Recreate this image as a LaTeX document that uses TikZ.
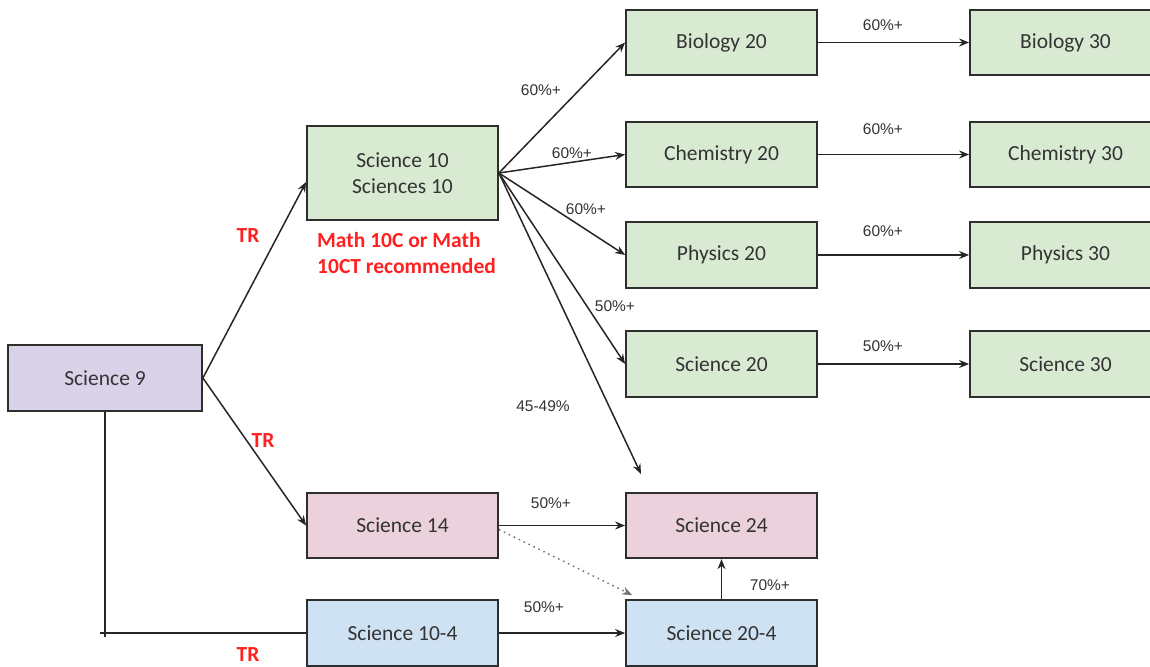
\documentclass[tikz,border=0pt]{standalone}
\usepackage{fontspec}
\setmainfont{Carlito}
\newfontfamily\labfont{Liberation Sans}
\usetikzlibrary{arrows.meta,calc}
\definecolor{gfill}{HTML}{D9EAD3}
\definecolor{pfill}{HTML}{D9D2E9}
\definecolor{rfill}{HTML}{EAD1DC}
\definecolor{bfill}{HTML}{CFE2F3}
\definecolor{ink}{HTML}{333333}
\definecolor{redtxt}{HTML}{FF2020}
\tikzset{
  box/.style={draw=ink!90!black, line width=1.8pt, minimum width=191pt, minimum height=65.5pt,
    inner sep=0pt, text=ink, font=\fontsize{21.5}{26}\selectfont, align=center},
  arr/.style={line width=1.5pt, draw=black!85, -{Stealth[length=10pt,width=8pt]}},
  conn/.style={line width=1.5pt, draw=black!85},
  pct/.style={text=ink, font=\labfont\fontsize{15.5}{18}\selectfont, inner sep=0pt},
  trlab/.style={text=redtxt, font=\bfseries\fontsize{21.5}{26}\selectfont, inner sep=0pt},
}
\begin{document}
\begin{tikzpicture}[x=1pt,y=-1pt]
\useasboundingbox (0,0) rectangle (1150,666);
% nodes
\node[box, fill=pfill, minimum width=194pt, minimum height=66pt] (s9) at (105,378) {Science 9};
\node[box, fill=gfill, minimum height=94pt] (s10) at (402.5,173) {Science 10\\Sciences 10};
\node[box, fill=gfill] (bio20) at (721.5,42.5) {Biology 20};
\node[box, fill=gfill] (chem20) at (721.5,154.5) {Chemistry 20};
\node[box, fill=gfill] (phys20) at (721.5,255) {Physics 20};
\node[box, fill=gfill] (sci20) at (721.5,364) {Science 20};
\node[box, fill=gfill] (bio30) at (1065.5,42.5) {Biology 30};
\node[box, fill=gfill] (chem30) at (1065.5,154.5) {Chemistry 30};
\node[box, fill=gfill] (phys30) at (1065.5,255) {Physics 30};
\node[box, fill=gfill] (sci30) at (1065.5,364) {Science 30};
\node[box, fill=rfill] (s14) at (402.5,525.5) {Science 14};
\node[box, fill=rfill] (s24) at (721.5,525.5) {Science 24};
\node[box, fill=bfill, minimum height=66pt] (s104) at (402.5,633) {Science 10-4};
\node[box, fill=bfill, minimum height=66pt] (s204) at (721.5,633) {Science 20-4};
\coordinate (free24) at (641,474);
\coordinate (corner) at (105,637);
\coordinate (tick) at (100,633);
% connectors
\draw[arr] (s9.east) -- ([yshift=-9pt]s10.west);
\draw[arr] (s9.east) -- (s14.west);
\draw[conn] (s9.south) -- (corner);
\draw[conn] (tick) -- (s104.west);
\draw[arr] (s10.east) -- (bio20.west);
\draw[arr] (s10.east) -- (chem20.west);
\draw[arr] (s10.east) -- (phys20.west);
\draw[arr] (s10.east) -- (sci20.west);
\draw[arr] (s10.east) -- (free24);
\draw[arr] (bio20.east) -- (bio30.west);
\draw[arr] (chem20.east) -- (chem30.west);
\draw[arr] (phys20.east) -- (phys30.west);
\draw[arr] (sci20.east) -- (sci30.west);
\draw[arr] (s14.east) -- (s24.west);
\draw[arr, draw=black!55, dash pattern=on 1.5pt off 4pt] ([yshift=-4pt]s14.east) -- ($(s204.north west)+(7,-4)$);
\draw[arr] (s104.east) -- (s204.west);
\draw[arr] (s204.north) -- (s24.south);
% labels
\node[pct] (l1) at (541,90) {60\%+};
\node[pct] (l2) at (572,153) {60\%+};
\node[pct] (l3) at (586,209) {60\%+};
\node[pct] (l4) at (615,306) {50\%+};
\node[pct] (l5) at (543,406) {45-49\%};
\node[pct] (l6) at (883,25) {60\%+};
\node[pct] (l7) at (883,129) {60\%+};
\node[pct] (l8) at (883,231) {60\%+};
\node[pct] (l9) at (883,346) {50\%+};
\node[pct] (l10) at (551,503) {50\%+};
\node[pct] (l11) at (544,607) {50\%+};
\node[pct] (l12) at (770,585) {70\%+};
\node[trlab] (tr1) at (248,236) {TR};
\node[trlab] (tr2) at (263,441) {TR};
\node[trlab] (tr3) at (248,655) {TR};
\node[trlab, anchor=west, align=left] (math) at (317,253) {Math 10C or Math\\10CT recommended};
\end{tikzpicture}
\end{document}
